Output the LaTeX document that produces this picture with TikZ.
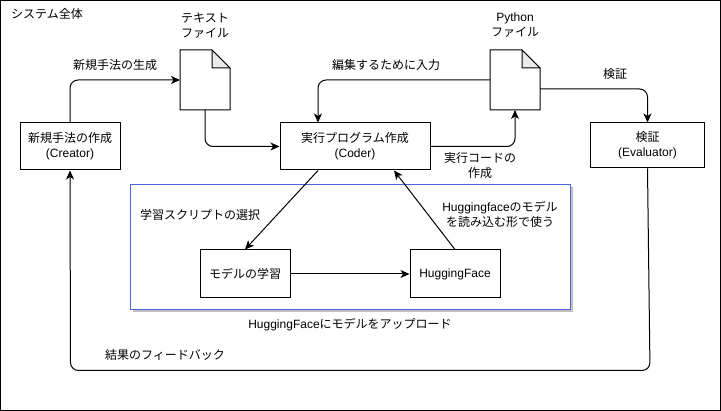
\documentclass[tikz,border=0pt]{standalone}
\usepackage{fontspec}
\setmainfont{Liberation Sans}
\newfontfamily\jpfont{Noto Sans CJK JP}
\usetikzlibrary{arrows.meta}
\definecolor{groupblue}{RGB}{76,100,226}
\definecolor{foldgray}{RGB}{235,235,235}
\begin{document}
\begin{tikzpicture}[
x=1pt, y=-1pt,
every node/.style={font=\fontsize{12}{15}\selectfont, align=center},
boxnode/.style={rectangle, draw=black, fill=white, line width=1pt, inner sep=0pt},
twolinenode/.style={boxnode, execute at begin node={\rule{0pt}{13pt}}},
docnode/.style={rectangle, minimum width=50pt, minimum height=60pt, inner sep=0pt, outer sep=0pt},
groupnode/.style={rectangle, minimum width=440pt, minimum height=125pt, inner sep=0pt},
textnode/.style={inner sep=0pt},
arrowline/.style={-{Stealth[length=9pt,width=8pt,inset=2.5pt]}, line width=1pt, rounded corners=8pt},
]
\useasboundingbox (0,0) rectangle (721,411);
\draw[line width=1pt] (0.5,0.5) rectangle (720.5,410.5);
%Nodes
\node[groupnode, fill=black!25](trainshadow) at(352.5,250) {};
\node[groupnode, draw=groupblue, fill=white, line width=1pt](trainarea) at(350,247.5) {};
\node[twolinenode, minimum width=100pt, minimum height=47pt](creator) at(70,146.5) {\jpfont 新規手法の作成\\(Creator)};
\node[twolinenode, minimum width=150pt, minimum height=47pt](coder) at(355,146.5) {\jpfont 実行プログラム作成\\(Coder)};
\node[twolinenode, minimum width=114pt, minimum height=45pt](evaluator) at(647.5,145.5) {\jpfont 検証\\(Evaluator)};
\node[boxnode, minimum width=90pt, minimum height=48pt](training) at(245,274) {\jpfont モデルの学習};
\node[boxnode, minimum width=90pt, minimum height=48pt](hugging) at(455,274) {HuggingFace};
\node[docnode](textfile) at(205,80) {};
\node[docnode](pythonfile) at(515,80) {};
\coordinate (feedbackright) at (650,370.5);
\coordinate (feedbackleft) at (70.5,370.5);
%Documents
\foreach \docname in {textfile,pythonfile}{
\draw[line width=1pt, fill=white] (\docname.south west) -- (\docname.north west) -- ([xshift=-18pt]\docname.north east) -- ([yshift=-18pt]\docname.north east) -- (\docname.south east) -- cycle;
\draw[line width=1pt, fill=foldgray] ([xshift=-18pt]\docname.north east) -- ([xshift=-18pt,yshift=-18pt]\docname.north east) -- ([yshift=-18pt]\docname.north east) -- cycle;
}
%Lines
\draw[arrowline] (creator.north) |- (textfile.west);
\draw[arrowline] (textfile.south) |- (coder.west);
\draw[arrowline] (pythonfile.west) -| ([xshift=-37pt]coder.north);
\draw[arrowline] (coder.east) -| (pythonfile.south);
\draw[arrowline] ([yshift=-9pt]pythonfile.east) -| (evaluator.north);
\draw[arrowline] (evaluator.south) -- (feedbackright) -- (feedbackleft) -- (creator.south);
\draw[arrowline] ([xshift=-37pt]coder.south) -- (training.north);
\draw[arrowline] (hugging.north) -- ([xshift=39pt]coder.south);
\draw[arrowline] (training.east) -- (hugging.west);
%Labels
\node[textnode, anchor=west](wholelabel) at(11,14) {\jpfont システム全体};
\node[textnode](textlabel) at(205,25.5) {\jpfont テキスト\\\jpfont ファイル};
\node[textnode](pythonlabel) at(515,25.5) {Python\\\jpfont ファイル};
\node[textnode](newlabel) at(115,65) {\jpfont 新規手法の生成};
\node[textnode](editlabel) at(386,65) {\jpfont 編集するために入力};
\node[textnode](checklabel) at(615,74) {\jpfont 検証};
\node[textnode](codelabel) at(480,165) {\jpfont 実行コードの\\\jpfont 作成};
\node[textnode](scriptlabel) at(200,215) {\jpfont 学習スクリプトの選択};
\node[textnode](uselabel) at(500,214.5) {Huggingface{\jpfont のモデル}\\\jpfont を読み込む形で使う};
\node[textnode](uploadlabel) at(350,325) {HuggingFace{\jpfont にモデルをアップロード}};
\node[textnode](feedbacklabel) at(165,355) {\jpfont 結果のフィードバック};
\end{tikzpicture}
\end{document}
